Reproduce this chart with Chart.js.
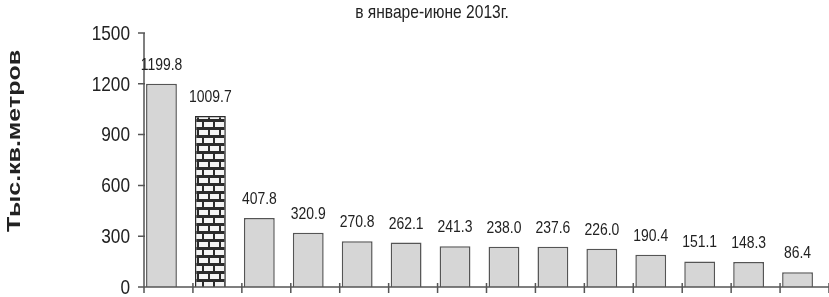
<!DOCTYPE html>
<html>
<head>
<meta charset="utf-8">
<script src="https://cdn.jsdelivr.net/npm/chart.js@4.4.1/dist/chart.umd.min.js"></script>
<style>
  html, body { margin: 0; padding: 0; background: #fff; }
  #wrap { width: 829px; height: 297px; }
</style>
</head>
<body>
<div id="wrap"><canvas id="areaChart"></canvas></div>
<script>
// x labels are not printed on the source picture
const categories = ['1', '2', '3', '4', '5', '6', '7', '8', '9', '10', '11', '12', '13', '14'];
const values = [1199.8, 1009.7, 407.8, 320.9, 270.8, 262.1, 241.3, 238.0, 237.6, 226.0, 190.4, 151.1, 148.3, 86.4];
const yTicks = [0, 300, 600, 900, 1200, 1500];
const chartTitle = 'в январе-июне 2013г.';
const yTitle = 'Тыс.кв.метров';

const FONT = '"Liberation Sans", Arial, sans-serif';
const SQUEEZE = 0.82;   // no narrow font installed, so squeeze regular one
const AXIS_SHIFT = 7;

// brick fill for the second bar
function brickPattern() {
    const c = document.createElement('canvas');
    c.width = 22;
    c.height = 16;
    const g = c.getContext('2d');
    g.fillStyle = '#2b2b2b';
    g.fillRect(0, 0, 22, 16);
    g.fillStyle = '#f4f4f4';
    g.fillRect(1, 2, 9, 5);
    g.fillRect(12, 2, 9, 5);
    g.fillRect(-5, 10, 9, 5);
    g.fillRect(6, 10, 9, 5);
    g.fillRect(17, 10, 9, 5);
    return g.createPattern(c, 'repeat');
}

function narrowText(ctx, text, x, y, align, baseline) {
    ctx.save();
    ctx.translate(x, y);
    ctx.scale(SQUEEZE, 1);
    ctx.textAlign = align;
    ctx.textBaseline = baseline;
    ctx.fillText(text, 0, 0);
    ctx.restore();
}

const fills = values.map((_, i) => i === 1 ? brickPattern() : '#d6d6d6');
const borders = values.map((_, i) => i === 1 ? '#2b2b2b' : '#555');

const decor = {
    id: 'decor',
    afterDatasetsDraw(chart) {
        const { ctx, chartArea, scales } = chart;
        const x = scales.x, y = scales.y;
        const step = x.width / categories.length;
        const ax = chartArea.left + AXIS_SHIFT;

        ctx.save();
        ctx.strokeStyle = '#555';
        ctx.lineWidth = 1.5;
        ctx.beginPath();
        ctx.moveTo(ax, y.top);
        ctx.lineTo(ax, y.bottom);
        ctx.moveTo(ax, y.bottom);
        ctx.lineTo(chart.width, y.bottom);
        yTicks.forEach(v => {
            const py = y.getPixelForValue(v);
            ctx.moveTo(ax - 6, py);
            ctx.lineTo(ax + 1, py);
        });
        for (let i = 0; i <= categories.length; i++) {
            const px = x.left + i * step + AXIS_SHIFT;
            ctx.moveTo(px, y.bottom - 4);
            ctx.lineTo(px, y.bottom + 6);
        }
        ctx.stroke();

        ctx.fillStyle = '#222';

        // y tick labels
        ctx.font = '21px ' + FONT;
        yTicks.forEach(v => {
            narrowText(ctx, String(v), ax - 14, y.getPixelForValue(v) + 1, 'right', 'middle');
        });

        // value labels
        ctx.font = '17px ' + FONT;
        chart.getDatasetMeta(0).data.forEach((bar, i) => {
            narrowText(ctx, values[i].toFixed(1), bar.x, bar.y - 14, 'center', 'alphabetic');
        });

        // title
        ctx.font = '19px ' + FONT;
        narrowText(ctx, chartTitle, 432, 18, 'center', 'alphabetic');

        // y title, rotated
        ctx.font = 'bold 19px ' + FONT;
        const w = ctx.measureText(yTitle).width;
        ctx.translate(15, 141);
        ctx.rotate(-Math.PI / 2);
        ctx.scale(182 / w, 1);
        ctx.textAlign = 'center';
        ctx.textBaseline = 'middle';
        ctx.fillText(yTitle, 0, 0);
        ctx.restore();
    }
};

const ctx = document.getElementById('areaChart').getContext('2d');

const areaChart = new Chart(ctx, {
    type: 'bar',
    data: {
        labels: categories,
        datasets: [{
            data: values,
            backgroundColor: fills,
            borderColor: borders,
            borderWidth: 1.5,
            barPercentage: 0.63,
            categoryPercentage: 1
        }]
    },
    options: {
        responsive: true,
        maintainAspectRatio: false,
        animation: false,
        layout: { padding: { top: 33, bottom: 10, left: 0, right: 7 } },
        plugins: {
            legend: { display: false },
            tooltip: { enabled: false },
            title: { display: false }
        },
        scales: {
            x: {
                display: false
            },
            y: {
                min: 0,
                max: 1500,
                afterFit: (scale) => { scale.width = 137; },
                grid: { display: false, drawTicks: false },
                border: { display: false },
                ticks: { stepSize: 300, display: false }
            }
        }
    },
    plugins: [decor]
});
</script>
</body>
</html>
